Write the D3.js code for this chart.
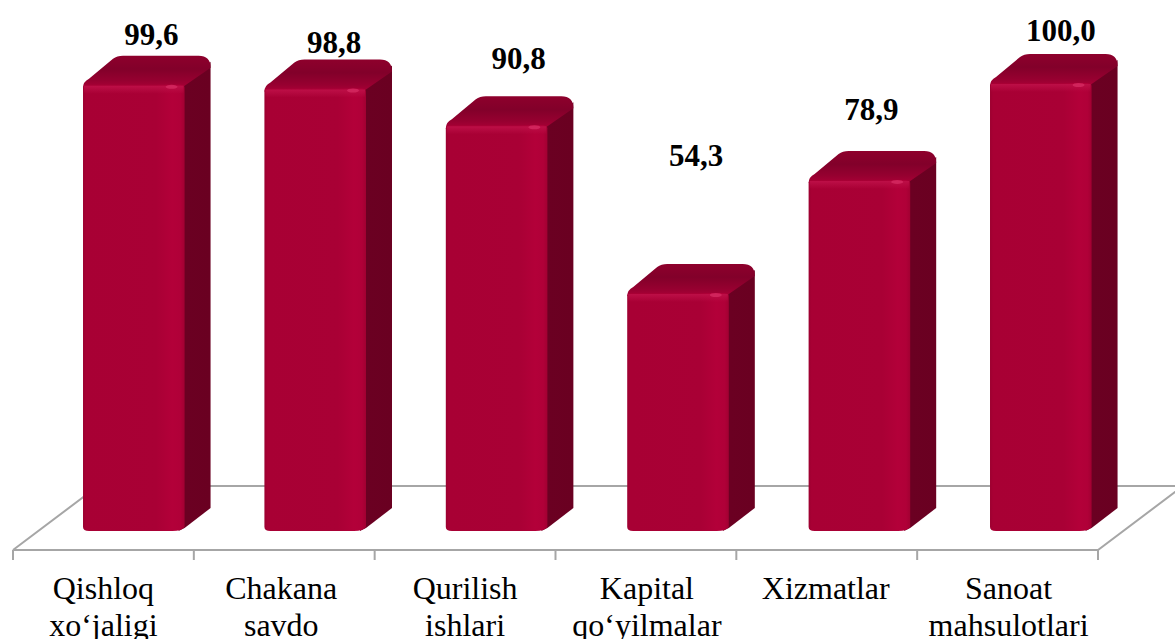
<!DOCTYPE html>
<html>
<head>
<meta charset="utf-8">
<script src="https://cdn.jsdelivr.net/npm/d3@7"></script>
<style>
    html, body { margin: 0; padding: 0; background: #fff; overflow: hidden; }
    svg { display: block; }
    text { font-family: "Liberation Serif", serif; fill: #000; }
</style>
</head>
<body>
<svg id="chart"></svg>
<script>
// --- Data ---
const categories = [
    ["Qishloq", "xo‘jaligi"],
    ["Chakana", "savdo"],
    ["Qurilish", "ishlari"],
    ["Kapital", "qo‘yilmalar"],
    ["Xizmatlar"],
    ["Sanoat", "mahsulotlari"]
];
const values = [99.6, 98.8, 90.8, 54.3, 78.9, 100.0];
const valueLabels = ["99,6", "98,8", "90,8", "54,3", "78,9", "100,0"];

// label placement in the original is hand moved, not regular
const labelShiftX = [4.5, 6, 9, 5, -1, 7];
const labelShiftY = [0, 4, -16, -87, -20, -2];
const categoryShiftX = [0, -3, 0, 1, -1, 1];

// --- Sizing ---
const width = 1175, height = 639;
const floorFront = 550, floorBack = 486, floorDepth = 85;
const barBottom = 531, depthX = 26, depthY = 29, depthYBottom = 23;

const svg = d3.select("#chart").attr("width", width).attr("height", height);

// --- Scales ---
const x = d3.scaleBand().domain(d3.range(values.length)).range([43.1, 1131.5]).paddingInner(0.44).paddingOuter(0.22);
const y = d3.scaleLinear().domain([0, 100]).range([542.5, 83]);
const tickX = d3.scaleLinear().domain([0, values.length]).range([13, 1098]);

// --- Gradients ---
const defs = svg.append("defs");
function gradient(id, horizontal, stops) {
    const g = defs.append("linearGradient").attr("id", id)
        .attr("x1", 0).attr("y1", 0)
        .attr("x2", horizontal ? 1 : 0).attr("y2", horizontal ? 0 : 1);
    stops.forEach(s => g.append("stop").attr("offset", s[0]).attr("stop-color", s[1]).attr("stop-opacity", s[2] === undefined ? 1 : s[2]));
}
gradient("front", true, [[0, "#9c0030"], [0.03, "#a80034"], [0.72, "#a90035"], [0.88, "#b30039"], [0.96, "#b00038"], [1, "#a20032"]]);
gradient("frontTop", false, [[0, "#bd0f47", 1], [1, "#bd0f47", 0]]);
gradient("side", true, [[0, "#7c0028"], [0.2, "#6b0022"], [1, "#6a0021"]]);
gradient("top", false, [[0, "#8e002c"], [0.4, "#82002a"], [0.75, "#960030"], [1, "#ad0037"]]);

// --- Floor ---
const lineColor = "#a6a6a6";
const floor = svg.append("g").attr("fill", "none").attr("stroke", lineColor).attr("stroke-width", 2);
floor.append("path").attr("d", d3.line()([
    [tickX(0), floorFront], [tickX(0) + floorDepth, floorBack], [width + 10, floorBack]
]));
floor.append("path").attr("d", d3.line()([
    [tickX(0), floorFront], [tickX(values.length), floorFront], [tickX(values.length) + floorDepth, floorBack]
]));
floor.selectAll("line").data(d3.range(values.length + 1)).join("line")
    .attr("x1", d => tickX(d)).attr("x2", d => tickX(d))
    .attr("y1", floorFront).attr("y2", floorFront + 10);

// --- Bars ---
const bw = x.bandwidth();
const bars = svg.append("g").selectAll("g").data(values).join("g");

// side face
bars.append("path").attr("fill", "url(#side)")
    .attr("d", (d, i) => {
        const r = x(i) + bw, t = y(d);
        return `M${r - 2},${t}L${r + depthX},${t - depthY + 6}L${r + depthX},${barBottom - depthYBottom}` +
            `L${r},${barBottom - 3}L${r - 6},${barBottom}L${r - 6},${barBottom - 6}Z`;
    });

// top face
bars.append("path").attr("fill", "url(#top)")
    .attr("d", (d, i) => {
        const l = x(i), r = l + bw, t = y(d);
        return `M${l},${t + 3}Q${l},${t - 3} ${l + 6},${t - 6}L${l + depthX + 4},${t - depthY + 3}` +
            `Q${l + depthX + 8},${t - depthY} ${l + depthX + 14},${t - depthY}L${r + depthX - 12},${t - depthY}` +
            `Q${r + depthX},${t - depthY} ${r + depthX},${t - depthY + 12}L${r},${t + 1}L${r - 4},${t + 4}Z`;
    });

// front face
bars.append("path").attr("fill", "url(#front)")
    .attr("d", (d, i) => {
        const l = x(i), r = l + bw, t = y(d);
        return `M${l},${t + 3}Q${l},${t} ${l + 4},${t}L${r - 4},${t}Q${r},${t} ${r},${t + 3}L${r},${barBottom - 4}` +
            `Q${r - 3},${barBottom} ${r - 12},${barBottom}L${l + 6},${barBottom}Q${l},${barBottom} ${l},${barBottom - 4}Z`;
    });

// light bevel along the front top edge
bars.append("path").attr("fill", "url(#frontTop)")
    .attr("d", (d, i) => {
        const l = x(i), r = l + bw, t = y(d);
        return `M${l + 1},${t + 1}L${r - 1},${t + 1}L${r - 1},${t + 9}L${l + 1},${t + 9}Z`;
    });

// small shine where the three faces meet
bars.append("ellipse")
    .attr("cx", (d, i) => x(i) + bw - 13)
    .attr("cy", d => y(d) + 2)
    .attr("rx", 6).attr("ry", 2)
    .attr("fill", "#d62a62").attr("opacity", 0.8);

// --- Value labels ---
svg.append("g").selectAll("text").data(values).join("text")
    .attr("x", (d, i) => x(i) + bw / 2 + depthX / 2 + labelShiftX[i])
    .attr("y", (d, i) => y(d) - 40 + labelShiftY[i])
    .attr("text-anchor", "middle")
    .attr("font-size", 31)
    .attr("font-weight", "bold")
    .text((d, i) => valueLabels[i]);

// --- Category labels ---
const catLabels = svg.append("g").selectAll("text").data(categories).join("text")
    .attr("text-anchor", "middle")
    .attr("font-size", 32);
catLabels.selectAll("tspan").data((d, i) => d.map(s => ({ s, i }))).join("tspan")
    .attr("x", d => tickX(d.i + 0.5) + categoryShiftX[d.i])
    .attr("y", (d, j) => 599 + j * 37)
    .text(d => d.s);
</script>
</body>
</html>
